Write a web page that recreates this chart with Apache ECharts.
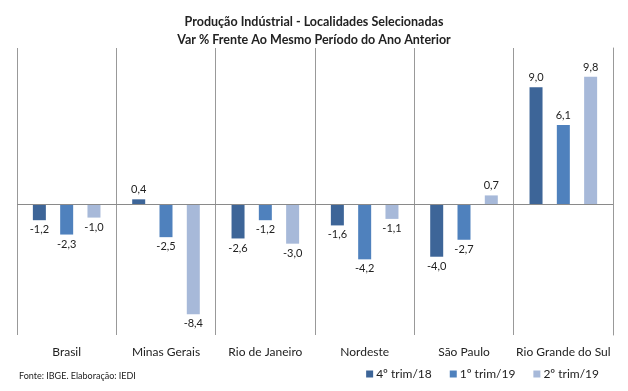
<!DOCTYPE html>
<html>
<head>
<meta charset="utf-8">
<script src="https://cdn.jsdelivr.net/npm/echarts@6/dist/echarts.min.js"></script>
<style>html,body{margin:0;padding:0;background:#fff;}#c{width:628px;height:391px;}</style>
</head>
<body>
<div id="c"></div>
<script>
const categories = ['Brasil', 'Minas Gerais', 'Rio de Janeiro', 'Nordeste', 'São Paulo', 'Rio Grande do Sul'];
const seriesNames = ['4º trim/18', '1º trim/19', '2º trim/19'];
const q4_18 = [-1.2, 0.4, -2.6, -1.6, -4.0, 9.0];
const q1_19 = [-2.3, -2.5, -1.2, -4.2, -2.7, 6.1];
const q2_19 = [-1.0, -8.4, -3.0, -1.1, 0.7, 9.8];
const colors = ['#3D6598', '#4F81BD', '#A7B9D9'];
const FONT = 'Lato';

function fmt(v) { return v.toFixed(1).replace('.', ','); }
function items(arr) {
  return arr.map(v => ({ value: v, label: { position: v < 0 ? 'bottom' : 'top' } }));
}
const allData = [q4_18, q1_19, q2_19];
const series = allData.map((arr, i) => ({
  name: seriesNames[i],
  type: 'bar',
  data: items(arr),
  barWidth: 13,
  barGap: '110%',
  itemStyle: { color: colors[i] },
  label: {
    show: true, distance: 4, color: '#222', fontSize: 11, fontFamily: FONT,
    formatter: p => fmt(p.value)
  },
  markLine: i === 0 ? {
    silent: true, symbol: 'none', label: { show: false },
    lineStyle: { color: '#8a8a8a', width: 1, type: 'solid' },
    data: [{ yAxis: 0 }]
  } : undefined
}));

const chart = echarts.init(document.getElementById('c'), null, { renderer: 'canvas' });
chart.setOption({
  animation: false,
  backgroundColor: '#fff',
  title: [{
    text: 'Produção Indústrial - Localidades Selecionadas\nVar % Frente Ao Mesmo Período do Ano Anterior',
    left: 'center', top: 8,
    textStyle: { fontFamily: FONT, fontSize: 12.5, fontWeight: 'bold', color: '#222', lineHeight: 18 }
  }, {
    text: 'Fonte: IBGE. Elaboração: IEDI',
    left: 14, top: 367,
    textStyle: { fontFamily: FONT, fontSize: 9, fontWeight: 'normal', color: '#222' }
  }],
  legend: {
    data: seriesNames,
    right: 24, top: 363,
    icon: 'rect', itemWidth: 7, itemHeight: 7, itemGap: 18,
    textStyle: { fontFamily: FONT, fontSize: 12, color: '#222', padding: [0, 0, 0, -2] }
  },
  grid: { left: 17, right: 15, top: 48, bottom: 56 },
  xAxis: {
    type: 'category',
    data: categories,
    axisLine: { show: false },
    axisTick: { show: false, interval: 0 },
    axisLabel: { fontFamily: FONT, fontSize: 12, color: '#222', margin: 11, interval: 0 },
    splitLine: { show: true, interval: 0, lineStyle: { color: '#999', width: 1 } }
  },
  yAxis: {
    type: 'value', min: -10, max: 12, interval: 2,
    position: 'right',
    axisLine: { show: true, lineStyle: { color: '#999', width: 1 } },
    axisTick: { show: false },
    axisLabel: { show: false },
    splitLine: { show: false }
  },
  series: series
});
</script>
</body>
</html>
